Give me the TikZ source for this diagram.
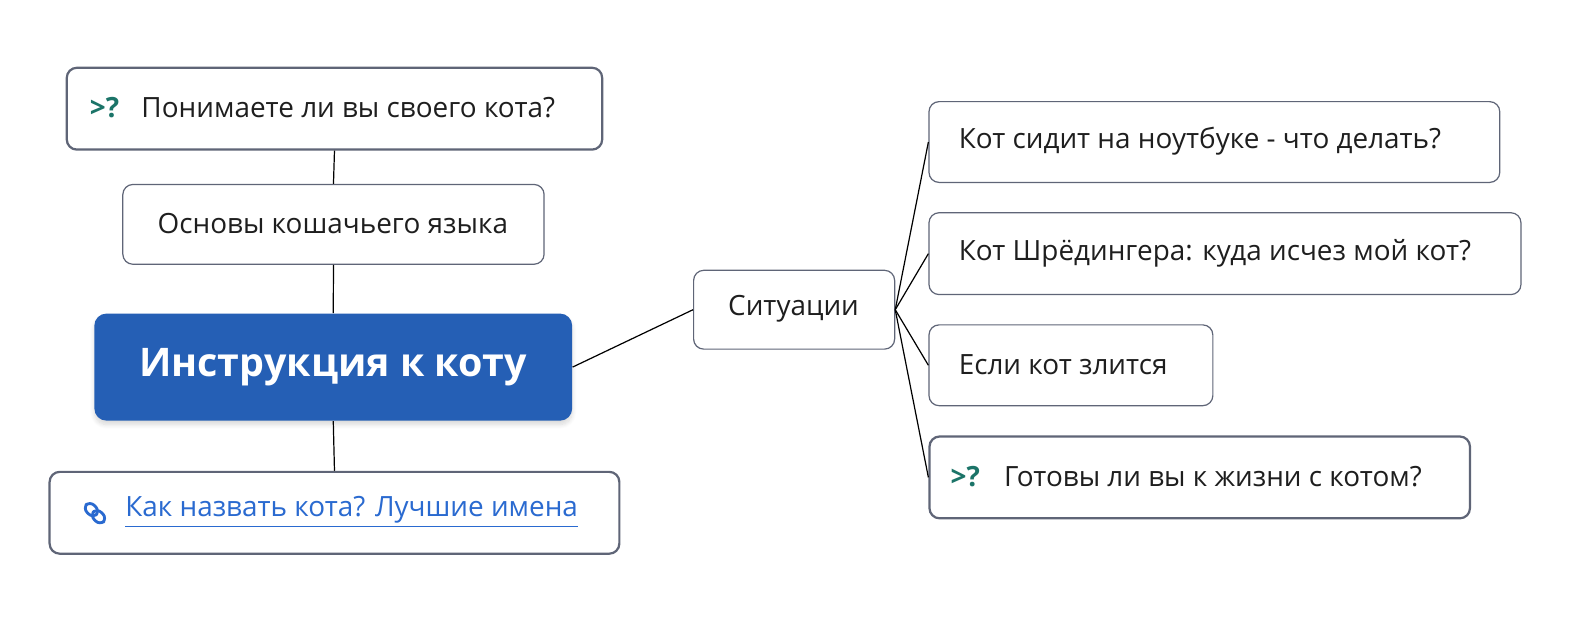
\documentclass[tikz,border=0pt]{standalone}
\usepackage{fontspec}
\setmainfont{Open Sans}
\usetikzlibrary{shadows.blur}
\definecolor{bd}{HTML}{5F6577}
\definecolor{teal}{HTML}{1B7468}
\definecolor{cblue}{HTML}{255FB5}
\definecolor{lnk}{HTML}{2A6AD0}
\definecolor{txt}{HTML}{1E1E1E}
\newcommand{\fs}{\fontsize{13.8}{16}\selectfont}
\begin{document}
\begin{tikzpicture}[x=0.5pt,y=-0.5pt,
 box/.style={draw=bd,line width=0.6pt,rounded corners=5pt,fill=white,inner sep=0pt},
 thick box/.style={box,line width=1.1pt},
 t/.style={text=txt,font=\fs},
 conn/.style={draw=black,line width=0.6pt},
 q/.style={text=teal,font=\fs\bfseries}]
\node[thick box,minimum width=265pt,minimum height=40.5pt,anchor=north west] (q1) at (65,66) {};
\node[anchor=west,q] at (82,106.5) {>?};
\node[anchor=west,t] at (133,106.5) {Понимаете ли вы своего кота?};
\node[box,minimum width=208.5pt,minimum height=39.5pt,anchor=north west] (b1) at (121,182) {};
\node[t] at (329.5,221.5) {Основы кошачьего языка};
\node[rounded corners=6pt,fill=cblue,inner sep=0pt,minimum width=236.5pt,minimum height=53pt,anchor=north west,blur shadow={shadow blur steps=8,shadow xshift=0pt,shadow yshift=-2pt,shadow opacity=15}] (c) at (93,310) {};
\node[text=white,font=\fontsize{19.5}{22}\selectfont\bfseries] at (329.5,363) {Инструкция к коту};
\node[thick box,minimum width=282pt,minimum height=40.5pt,anchor=north west] (l) at (48,466) {};
\begin{scope}[shift={(94,508)},rotate=-45,line width=1.4pt]
 \draw[rounded corners=3pt,lnk] (-12,-5) rectangle (2,5);
 \draw[rounded corners=3pt,lnk] (-2,-5) rectangle (12,5);
\end{scope}
\node[anchor=west,text=lnk,font=\fs] at (117,506.5) {\underline{Как назвать кота? Лучшие имена}};
\node[box,minimum width=99.5pt,minimum height=39pt,anchor=north west] (s) at (686,267) {};
\node[t] at (785.5,306) {Ситуации};
\node[box,minimum width=282.5pt,minimum height=40pt,anchor=north west] (r1) at (919,100) {};
\node[anchor=west,t] at (942,140) {Кот сидит на ноутбуке - что делать?};
\node[box,minimum width=293pt,minimum height=40.5pt,anchor=north west] (r2) at (919,210) {};
\node[anchor=west,t] at (942,250.5) {Кот Шрёдингера: куда исчез мой кот?};
\node[box,minimum width=140.5pt,minimum height=40pt,anchor=north west] (r3) at (919,321) {};
\node[anchor=west,t] at (942,361) {Если кот злится};
\node[thick box,minimum width=267.5pt,minimum height=40.5pt,anchor=north west] (r4) at (919,431) {};
\node[anchor=west,q] at (934,471.5) {>?};
\node[anchor=west,t] at (987,471.5) {Готовы ли вы к жизни с котом?};
\draw[conn] (q1.south) -- (b1.north);
\draw[conn] (b1.south) -- (c.north);
\draw[conn] (c.south) -- (l.north);
\draw[conn] (c.east) -- (s.west);
\foreach \r in {r1,r2,r3,r4} \draw[conn] (s.east) -- (\r.west);
\pgfresetboundingbox
\useasboundingbox (0,0) rectangle (1568,613);
\end{tikzpicture}
\end{document}
